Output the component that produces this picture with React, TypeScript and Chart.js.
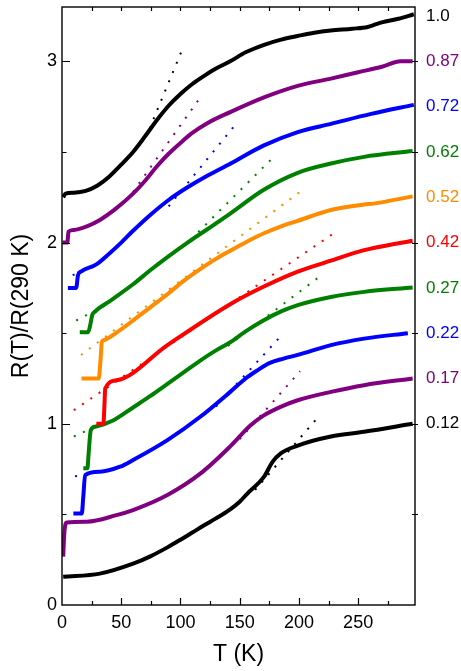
import React, { useEffect, useRef } from "react";
import { Chart, registerables } from "chart.js";

Chart.register(...registerables);

const FONT = "'Liberation Sans', Arial, Helvetica, sans-serif";

// series names (x value of each sample), colours and the R value at the right edge where the label sits
const seriesLabels = ["1.0", "0.87", "0.72", "0.62", "0.52", "0.42", "0.27", "0.22", "0.17", "0.12"];
const seriesColors = ["#000000", "#800080", "#0000ff", "#008000", "#ff8c00", "#ff0000", "#008000", "#0000ff", "#800080", "#000000"];
const labelValues = [3.25, 3.0, 2.75, 2.5, 2.25, 2.0, 1.75, 1.5, 1.25, 1.0];

const xTicks = [0, 50, 100, 150, 200, 250];
const yTicks = [0, 1, 2, 3];

// curves: [T (K), R(T)/R(290 K) + offset]
const c100 = [[1, 2.25], [3, 2.27], [10, 2.275], [20, 2.285], [30, 2.315], [40, 2.365], [50, 2.43], [60, 2.5], [70, 2.585], [80, 2.675], [90, 2.755], [100, 2.82], [110, 2.875], [120, 2.92], [130, 2.96], [142, 3.0], [155, 3.05], [170, 3.09], [185, 3.12], [199, 3.14], [213, 3.158], [227, 3.17], [245, 3.18], [258, 3.19], [265, 3.205], [270, 3.215], [284, 3.235], [297, 3.26]];
const c087 = [[0.5, 2.0], [4.5, 2.0], [5.5, 2.06], [10, 2.07], [21, 2.09], [32, 2.125], [46, 2.19], [60, 2.27], [70, 2.34], [80, 2.42], [90, 2.49], [100, 2.55], [110, 2.605], [123, 2.66], [142, 2.72], [170, 2.8], [199, 2.865], [227, 2.905], [250, 2.94], [270, 2.97], [286, 3.0], [296, 3.0]];
const c072 = [[5, 1.75], [12, 1.75], [13.5, 1.82], [16, 1.84], [29, 1.88], [40, 1.94], [50, 2.0], [60, 2.065], [75, 2.155], [90, 2.235], [106, 2.305], [123, 2.37], [142, 2.435], [170, 2.535], [199, 2.61], [227, 2.655], [261, 2.71], [297, 2.76]];
const c062 = [[15, 1.505], [22, 1.505], [24, 1.55], [25.5, 1.6], [28, 1.62], [41, 1.68], [60, 1.77], [75, 1.85], [89, 1.92], [106, 2.0], [123, 2.075], [142, 2.16], [170, 2.29], [199, 2.385], [227, 2.436], [255, 2.473], [296, 2.505]];
const c052 = [[16.5, 1.25], [31, 1.25], [32.5, 1.35], [33.6, 1.45], [35, 1.46], [49, 1.517], [60, 1.57], [75, 1.645], [89, 1.715], [103, 1.79], [117, 1.855], [130, 1.91], [142, 1.955], [156, 2.005], [170, 2.05], [185, 2.09], [199, 2.12], [227, 2.18], [255, 2.21], [263, 2.215], [296, 2.255]];
const c042 = [[29, 1.0], [35, 1.0], [35.8, 1.1], [36.5, 1.195], [46, 1.24], [89, 1.434], [142, 1.66], [170, 1.756], [199, 1.84], [227, 1.9], [255, 1.958], [283, 1.995], [296, 2.01]];
const c027 = [[18, 0.754], [21.5, 0.754], [22.3, 0.82], [24.3, 0.965], [28, 0.984], [43.5, 1.02], [60, 1.09], [75, 1.155], [89, 1.22], [103, 1.285], [117, 1.35], [130, 1.405], [142, 1.45], [155, 1.51], [170, 1.57], [185, 1.62], [199, 1.655], [227, 1.7], [255, 1.728], [296, 1.752]];
const c022 = [[9.6, 0.505], [16.7, 0.505], [18, 0.6], [19.5, 0.717], [32, 0.735], [49, 0.763], [60, 0.8], [89, 0.91], [117, 1.04], [142, 1.176], [155, 1.25], [165, 1.295], [175, 1.335], [187, 1.36], [199, 1.38], [227, 1.434], [255, 1.47], [292, 1.5]];
const c017 = [[1, 0.267], [2, 0.4], [4, 0.455], [21, 0.46], [46, 0.496], [60, 0.524], [89, 0.607], [117, 0.726], [142, 0.875], [159, 0.99], [170, 1.045], [185, 1.095], [199, 1.13], [227, 1.176], [255, 1.213], [296, 1.25]];
const c012 = [[1, 0.156], [32, 0.173], [60, 0.228], [75, 0.27], [89, 0.318], [100, 0.36], [110, 0.4], [120, 0.44], [130, 0.478], [142, 0.528], [150, 0.57], [156.5, 0.615], [170.6, 0.708], [177.7, 0.79], [184.7, 0.837], [199, 0.88], [227, 0.93], [255, 0.956], [296, 1.0]];

const curves = [c100, c087, c072, c062, c052, c042, c027, c022, c017, c012];

// dotted linear guides: [start, end] in data units
const f100 = [[74, 2.63], [101, 3.057]];
const f087 = [[60, 2.28], [115, 2.785]];
const f072a = [[9, 1.82], [30, 1.875]];
const f072b = [[90, 2.2], [145, 2.64]];
const f062a = [[12, 1.57], [40, 1.665]];
const f062b = [[115, 2.058], [176, 2.455]];
const f052 = [[16, 1.38], [205, 2.3]];
const f042 = [[10, 1.075], [232, 2.063]];
const f027a = [[10, 0.93], [40, 1.02]];
const f027b = [[140, 1.43], [216, 1.805]];
const f022a = [[11, 0.71], [30, 0.735]];
const f022b = [[130, 1.095], [187, 1.5]];
const f017 = [[150, 0.915], [201, 1.29]];
const f012 = [[163, 0.635], [216, 1.035]];

const fits = [f100, f087, f072a, f072b, f062a, f062b, f052, f042, f027a, f027b, f022a, f022b, f017, f012];
const fitSeries = [0, 1, 2, 2, 3, 3, 4, 5, 6, 6, 7, 7, 8, 9];

const framePlugin = {
  id: "frameTicks",
  afterDatasetsDraw(chart: any) {
    const { ctx, chartArea: a, scales } = chart;
    const xs = scales.x;
    const ys = scales.y;
    ctx.save();
    ctx.strokeStyle = "#000";
    ctx.lineWidth = 1.4;
    ctx.strokeRect(a.left, a.top, a.right - a.left, a.bottom - a.top);
    ctx.lineWidth = 1.2;
    ctx.beginPath();
    for (let v = 25; v < xs.max; v += 25) {
      const px = Math.round(xs.getPixelForValue(v)) + 0.5;
      const len = v % 50 === 0 ? 7 : 4;
      ctx.moveTo(px, a.bottom);
      ctx.lineTo(px, a.bottom - len);
      ctx.moveTo(px, a.top);
      ctx.lineTo(px, a.top + 4);
    }
    for (let v = 0.5; v < ys.max; v += 0.5) {
      const py = Math.round(ys.getPixelForValue(v)) + 0.5;
      const len = Math.abs(v - Math.round(v)) < 1e-6 ? 8 : 4.5;
      ctx.moveTo(a.left, py);
      ctx.lineTo(a.left + len, py);
      ctx.moveTo(a.right - 3, py);
      ctx.lineTo(a.right + 3, py);
    }
    ctx.stroke();
    ctx.restore();
  },
};

function zeroPad(s: any) {
  s.paddingTop = 0;
  s.paddingBottom = 0;
  s.paddingLeft = 0;
  s.paddingRight = 0;
}

export default function App() {
  const ref = useRef<HTMLCanvasElement | null>(null);

  useEffect(() => {
    if (!ref.current) return;
    const datasets: any[] = [];
    curves.forEach((c, i) => {
      datasets.push({
        label: seriesLabels[i],
        data: c.map((p) => ({ x: p[0], y: p[1] })),
        borderColor: seriesColors[i],
        backgroundColor: seriesColors[i],
        borderWidth: 4,
        pointRadius: 0,
        cubicInterpolationMode: "monotone",
        fill: false,
        order: 1,
      });
    });
    fits.forEach((f, i) => {
      datasets.push({
        label: "fit" + i,
        data: f.map((p) => ({ x: p[0], y: p[1] })),
        borderColor: seriesColors[fitSeries[i]],
        borderWidth: 2,
        borderDash: [2, 8],
        borderCapStyle: "butt",
        pointRadius: 0,
        fill: false,
        order: 2,
      });
    });

    const chart = new Chart(ref.current, {
      type: "line",
      data: { datasets },
      plugins: [framePlugin],
      options: {
        animation: false,
        responsive: false,
        devicePixelRatio: 1,
        layout: { padding: { top: 7, left: 0, right: 0, bottom: 0 } },
        plugins: { legend: { display: false }, tooltip: { enabled: false } },
        scales: {
          x: {
            type: "linear",
            position: "bottom",
            min: 0,
            max: 298,
            grid: { display: false, drawTicks: false },
            border: { display: false },
            afterBuildTicks: (s: any) => {
              s.ticks = xTicks.map((v) => ({ value: v }));
            },
            ticks: {
              autoSkip: false,
              maxRotation: 0,
              color: "#000",
              padding: 7,
              font: { family: FONT, size: 18 },
            },
            title: {
              display: true,
              text: "T (K)",
              color: "#000",
              font: { family: FONT, size: 23 },
              padding: { top: 0, bottom: 3 },
            },
            afterFit: (s: any) => {
              s.height = 66;
              zeroPad(s);
            },
          },
          y: {
            type: "linear",
            position: "left",
            min: 0,
            max: 3.3,
            grid: { display: false, drawTicks: false },
            border: { display: false },
            afterBuildTicks: (s: any) => {
              s.ticks = yTicks.map((v) => ({ value: v }));
            },
            ticks: {
              autoSkip: false,
              color: "#000",
              padding: 5,
              font: { family: FONT, size: 18 },
            },
            title: {
              display: true,
              text: "R(T)/R(290 K)",
              color: "#000",
              font: { family: FONT, size: 23 },
              padding: { top: 8, bottom: 0 },
            },
            afterFit: (s: any) => {
              s.width = 62;
              zeroPad(s);
            },
          },
          y2: {
            type: "linear",
            position: "right",
            min: 0,
            max: 3.3,
            grid: { display: false, drawTicks: false },
            border: { display: false },
            afterBuildTicks: (s: any) => {
              s.ticks = labelValues.slice().sort((a, b) => a - b).map((v) => ({ value: v }));
            },
            ticks: {
              autoSkip: false,
              padding: 11,
              font: { family: FONT, size: 17 },
              callback: (v: any) => {
                const i = labelValues.findIndex((lv) => Math.abs(lv - Number(v)) < 1e-6);
                return i >= 0 ? seriesLabels[i] : "";
              },
              color: (ctx: any) => {
                const v = ctx.tick ? ctx.tick.value : 0;
                const i = labelValues.findIndex((lv) => Math.abs(lv - v) < 1e-6);
                return i >= 0 ? seriesColors[i] : "#000";
              },
            },
            afterFit: (s: any) => {
              s.width = 46;
              zeroPad(s);
            },
          },
        },
      },
    } as any);
    return () => chart.destroy();
  }, []);

  return (
    <div style={{ position: "fixed", left: 0, top: 0, width: 461, height: 671, background: "#fff" }}>
      <canvas ref={ref} width={461} height={671} style={{ display: "block", width: 461, height: 671 }} />
    </div>
  );
}
